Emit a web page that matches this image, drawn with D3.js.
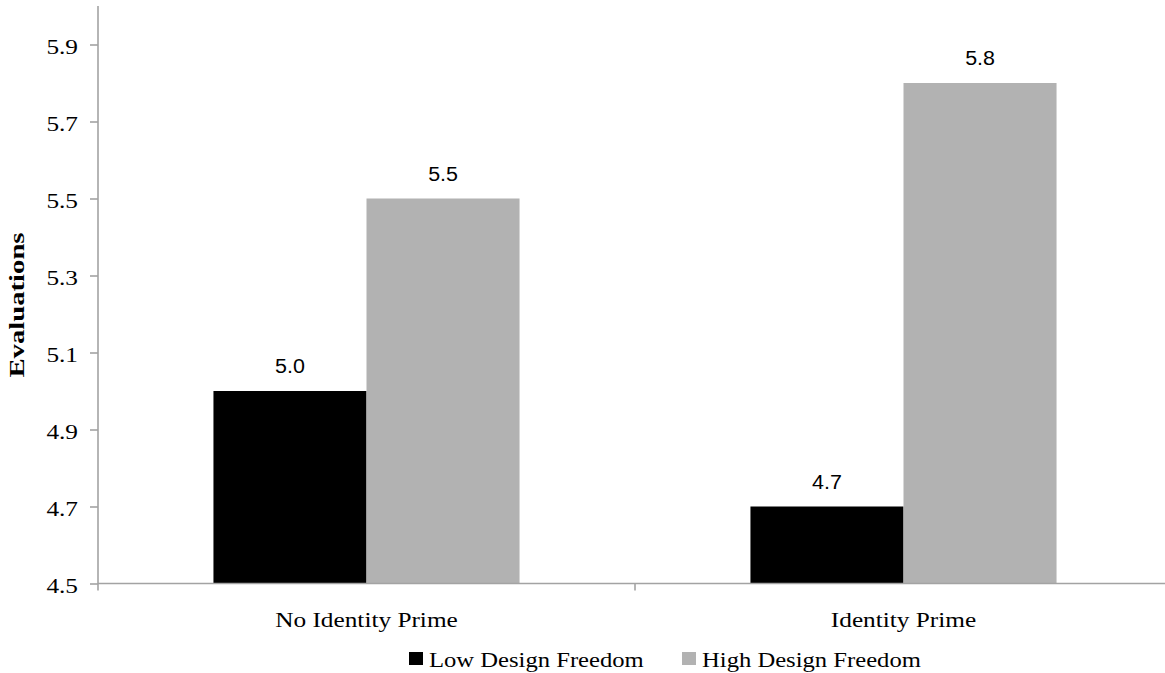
<!DOCTYPE html>
<html>
<head>
<meta charset="utf-8">
<script src="https://cdn.jsdelivr.net/npm/d3@7"></script>
<style>
  html, body { margin: 0; padding: 0; background: #fff; }
  svg { display: block; }
</style>
</head>
<body>
<svg id="chart" width="1165" height="673"></svg>
<script>
// Evaluations by identity prime and design freedom
const categories = ["No Identity Prime", "Identity Prime"];
const seriesNames = ["Low Design Freedom", "High Design Freedom"];
const lowValues = [5.0, 4.7];
const highValues = [5.5, 5.8];
const yTicks = [4.5, 4.7, 4.9, 5.1, 5.3, 5.5, 5.7, 5.9];
const seriesColors = ["#000000", "#b2b2b2"];

const svg = d3.select("#chart");
const serif = "'Liberation Serif', 'Times New Roman', serif";
const sans = "'Liberation Sans', Arial, sans-serif";
const axisColor = "#a3a3a3";
const stretch = 1.15;

const plot = { left: 98, right: 1172, top: 6, bottom: 583.5 };

const y = d3.scaleLinear().domain([4.5, 6.0]).range([plot.bottom, plot.top]);
const x = d3.scaleBand().domain(categories).range([plot.left, plot.right]).padding(0);
const xs = d3.scaleBand().domain(seriesNames)
  .range([x.bandwidth() * 0.215, x.bandwidth() * 0.785]).padding(0);

// Horizontally stretched text helper
function label(g, tx, ty, text, opts) {
  const t = g.append("g").attr("transform", `translate(${tx},${ty}) scale(${opts.sx || stretch},1)`)
    .append("text")
    .attr("x", 0).attr("y", 0)
    .attr("text-anchor", opts.anchor || "middle")
    .attr("font-family", opts.family || serif)
    .attr("font-size", opts.size || 22)
    .attr("fill", "#000")
    .text(text);
  return t;
}

// Bars
const rows = categories.map((c, i) => ({ cat: c, vals: [lowValues[i], highValues[i]] }));
const groups = svg.append("g").selectAll("g.grp").data(rows).join("g")
  .attr("transform", d => `translate(${x(d.cat)},0)`);

groups.selectAll("rect").data(d => d.vals.map((v, j) => ({ s: seriesNames[j], v, j })))
  .join("rect")
  .attr("x", d => xs(d.s))
  .attr("width", xs.bandwidth())
  .attr("y", d => y(d.v))
  .attr("height", d => y(4.5) - y(d.v))
  .attr("fill", d => seriesColors[d.j]);

// Value labels
groups.each(function(d) {
  const g = d3.select(this);
  d.vals.forEach((v, j) => {
    label(g, xs(seriesNames[j]) + xs.bandwidth() / 2, y(v) - 18, v.toFixed(1),
      { family: sans, size: 19.5, sx: 1.1 });
  });
});

// Y axis
const yAxis = svg.append("g").attr("transform", `translate(${plot.left},0)`)
  .call(d3.axisLeft(y).tickValues(yTicks).tickSize(8).tickSizeOuter(0).tickFormat(d3.format(".1f")));
yAxis.select(".domain").attr("stroke", axisColor).attr("stroke-width", 1.6)
  .attr("d", `M0,${plot.top}V${plot.bottom + 7}`);
yAxis.selectAll(".tick line").attr("stroke", axisColor).attr("stroke-width", 1.6);
yAxis.selectAll(".tick text").remove();
yAxis.selectAll(".tick").each(function(d) {
  label(d3.select(this), -20, 9, d3.format(".1f")(d), { anchor: "end" });
});

// X axis
const xAxis = svg.append("g").attr("transform", `translate(0,${plot.bottom})`);
xAxis.append("line").attr("x1", plot.left).attr("x2", plot.right)
  .attr("y1", 0).attr("y2", 0).attr("stroke", axisColor).attr("stroke-width", 1.6);
xAxis.selectAll("line.tk").data(categories.slice(1)).join("line").attr("class", "tk")
  .attr("x1", d => x(d)).attr("x2", d => x(d)).attr("y1", 0).attr("y2", 7)
  .attr("stroke", axisColor).attr("stroke-width", 1.6);
categories.forEach(c => {
  label(xAxis, x(c) + x.bandwidth() / 2, 43.5, c, {});
});

// Y axis title
svg.append("text")
  .attr("transform", "translate(24,305) rotate(-90)")
  .attr("text-anchor", "middle")
  .attr("font-family", serif)
  .attr("font-weight", "bold")
  .attr("font-size", 21)
  .attr("textLength", 145)
  .attr("lengthAdjust", "spacingAndGlyphs")
  .text("Evaluations");

// Legend
const legend = svg.append("g");
const legendX = [409, 682];
seriesNames.forEach((s, i) => {
  legend.append("rect").attr("x", legendX[i]).attr("y", 652)
    .attr("width", 14).attr("height", 13).attr("fill", seriesColors[i]);
  label(legend, legendX[i] + 20, 666.5, s, { anchor: "start", sx: 1.12 });
});
</script>
</body>
</html>
